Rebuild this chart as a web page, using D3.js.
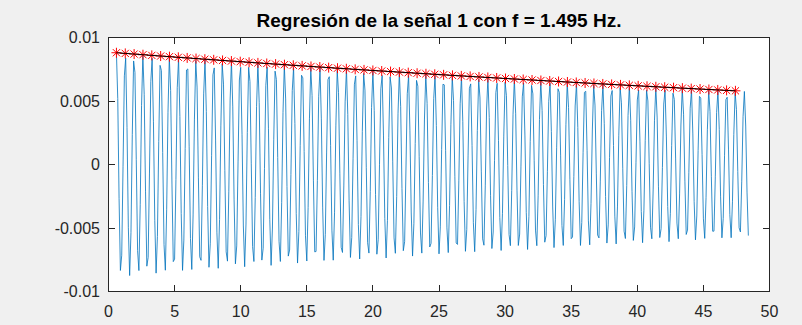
<!DOCTYPE html>
<html>
<head>
<meta charset="utf-8">
<script src="https://cdn.jsdelivr.net/npm/d3@7"></script>
<style>
  html, body { margin: 0; padding: 0; background: #f0f0f0; }
  svg { display: block; }
  text { font-family: "Liberation Sans", Arial, Helvetica, sans-serif; }
</style>
</head>
<body>
<svg id="chart" width="802" height="325"></svg>
<script>
// ---- data ----
const titleText = "Regresión de la señal 1 con f = 1.495 Hz.";
const signalFreq = 1.495;      // Hz, as stated in the title
const sampleStep = 0.1;        // s between samples
const signalStart = 0.6;       // s
const signalEnd = 48.4;        // s

const xTicks = [0, 5, 10, 15, 20, 25, 30, 35, 40, 45, 50];
const xTickLabels = ["0", "5", "10", "15", "20", "25", "30", "35", "40", "45", "50"];
const yTicks = [-0.01, -0.005, 0, 0.005, 0.01];
const yTickLabels = ["-0.01", "-0.005", "0", "0.005", "0.01"];

// fitted peak times (s) and amplitudes
const peakTimes = [0.600,1.269,1.938,2.607,3.276,3.945,4.613,5.282,5.951,6.620,
  7.289,7.958,8.627,9.296,9.965,10.634,11.302,11.971,12.640,13.309,
  13.978,14.647,15.316,15.985,16.654,17.323,17.991,18.660,19.329,19.998,
  20.667,21.336,22.005,22.674,23.343,24.012,24.680,25.349,26.018,26.687,
  27.356,28.025,28.694,29.363,30.032,30.701,31.369,32.038,32.707,33.376,
  34.045,34.714,35.383,36.052,36.721,37.390,38.058,38.727,39.396,40.065,
  40.734,41.403,42.072,42.741,43.410,44.079,44.747,45.416,46.085,46.754,47.423];
const peakValues = [0.0088000,0.0087478,0.0086959,0.0086443,0.0085930,0.0085420,0.0084913,0.0084409,0.0083908,0.0083410,
  0.0082915,0.0082423,0.0081934,0.0081448,0.0080965,0.0080485,0.0080007,0.0079532,0.0079060,0.0078591,
  0.0078125,0.0077661,0.0077200,0.0076742,0.0076287,0.0075834,0.0075384,0.0074937,0.0074492,0.0074050,
  0.0073610,0.0073173,0.0072739,0.0072307,0.0071878,0.0071451,0.0071027,0.0070606,0.0070187,0.0069770,
  0.0069356,0.0068944,0.0068535,0.0068128,0.0067724,0.0067322,0.0066922,0.0066525,0.0066130,0.0065738,
  0.0065348,0.0064960,0.0064575,0.0064192,0.0063811,0.0063432,0.0063056,0.0062682,0.0062310,0.0061940,
  0.0061572,0.0061207,0.0060844,0.0060483,0.0060124,0.0059767,0.0059412,0.0059059,0.0058709,0.0058361,0.0058015];
const tailPeakValue = 0.0057700; // amplitude of the last (unfitted) cycle

// ---- layout ----
const svg = d3.select("#chart");
const box = { left: 108.5, right: 769.5, top: 37.5, bottom: 291.5 };

const x = d3.scaleLinear().domain([0, 50]).range([box.left, box.right]);
const y = d3.scaleLinear().domain([-0.01, 0.01]).range([box.bottom, box.top]);

// axes background
svg.append("rect")
  .attr("x", box.left).attr("y", box.top)
  .attr("width", box.right - box.left).attr("height", box.bottom - box.top)
  .attr("fill", "#ffffff");

// ---- sampled signal ----
const nSamples = Math.round((signalEnd - signalStart) / sampleStep);
const signal = d3.range(nSamples + 1).map(j => {
  const t = signalStart + j * sampleStep;
  const cyc = (t - signalStart) * signalFreq;
  const k = Math.round(cyc);
  const amp = k < peakValues.length ? peakValues[k] : tailPeakValue;
  return { t, v: amp * Math.cos(2 * Math.PI * cyc) };
});

svg.append("path")
  .datum(signal)
  .attr("fill", "none")
  .attr("stroke", "#0072BD")
  .attr("stroke-width", 0.8)
  .attr("stroke-linejoin", "round")
  .attr("d", d3.line().x(d => x(d.t)).y(d => y(d.v)));

// ---- peak markers (asterisks) ----
const peaks = peakTimes.map((t, i) => ({ t, v: peakValues[i] }));
const r = 5.0, rd = 3.6;
const star = `M${-r},0H${r}M0,${-r}V${r}M${-rd},${-rd}L${rd},${rd}M${-rd},${rd}L${rd},${-rd}`;
svg.append("g").selectAll("path")
  .data(peaks)
  .join("path")
  .attr("transform", d => `translate(${x(d.t)},${y(d.v)})`)
  .attr("d", star)
  .attr("fill", "none")
  .attr("stroke", "#ff0000")
  .attr("stroke-width", 1);

// regression curve through the peaks
svg.append("path")
  .datum(peaks)
  .attr("fill", "none")
  .attr("stroke", "#000000")
  .attr("stroke-width", 1)
  .attr("d", d3.line().x(d => x(d.t)).y(d => y(d.v)));

// ---- box and ticks ----
const axisColor = "#262626";
svg.append("rect")
  .attr("x", box.left).attr("y", box.top)
  .attr("width", box.right - box.left).attr("height", box.bottom - box.top)
  .attr("fill", "none").attr("stroke", axisColor).attr("stroke-width", 1)
  .attr("shape-rendering", "crispEdges");

const tickLen = 6.5;
const ticks = svg.append("g").attr("stroke", axisColor).attr("stroke-width", 1)
  .attr("shape-rendering", "crispEdges");
xTicks.forEach(v => {
  const px = x(v);
  ticks.append("line").attr("x1", px).attr("x2", px).attr("y1", box.bottom).attr("y2", box.bottom - tickLen);
  ticks.append("line").attr("x1", px).attr("x2", px).attr("y1", box.top).attr("y2", box.top + tickLen);
});
yTicks.forEach(v => {
  const py = y(v);
  ticks.append("line").attr("x1", box.left).attr("x2", box.left + tickLen).attr("y1", py).attr("y2", py);
  ticks.append("line").attr("x1", box.right).attr("x2", box.right - tickLen).attr("y1", py).attr("y2", py);
});

// tick labels
svg.append("g").selectAll("text")
  .data(xTicks)
  .join("text")
  .attr("x", d => x(d))
  .attr("y", 316.5)
  .attr("text-anchor", "middle")
  .attr("font-size", "16px")
  .attr("fill", axisColor)
  .text((d, i) => xTickLabels[i]);

svg.append("g").selectAll("text")
  .data(yTicks)
  .join("text")
  .attr("x", 100)
  .attr("y", d => y(d))
  .attr("dy", "0.36em")
  .attr("text-anchor", "end")
  .attr("font-size", "16px")
  .attr("fill", axisColor)
  .text((d, i) => yTickLabels[i]);

// title
svg.append("text")
  .attr("x", (box.left + box.right) / 2)
  .attr("y", 27)
  .attr("text-anchor", "middle")
  .attr("font-size", "19px")
  .attr("font-weight", "bold")
  .attr("fill", "#000000")
  .text(titleText);
</script>
</body>
</html>
